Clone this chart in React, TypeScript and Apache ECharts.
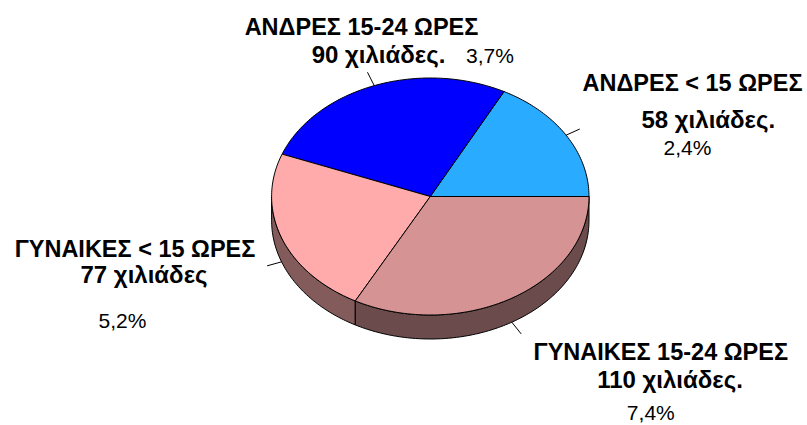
import React, { useEffect, useRef } from "react";
import * as echarts from "echarts";

const categories = ["ΑΝΔΡΕΣ < 15 ΩΡΕΣ", "ΑΝΔΡΕΣ 15-24 ΩΡΕΣ", "ΓΥΝΑΙΚΕΣ < 15 ΩΡΕΣ", "ΓΥΝΑΙΚΕΣ 15-24 ΩΡΕΣ"];
const values = [58, 90, 77, 110];
const valueLabels = ["58 χιλιάδες.", "90 χιλιάδες.", "77 χιλιάδες", "110 χιλιάδες."];
const percentLabels = ["2,4%", "3,7%", "5,2%", "7,4%"];

const topColors = ["#29ABFF", "#0000FF", "#FFABAB", "#D69393"];
const sideColors = ["#1A6FA8", "#00009A", "#845B5B", "#6B4B4B"];

// label anchor points: [centerX, baselineY]
const labelLayout = [
  { l1: [692.5, 91.5], l2: [708.3, 128], p: [687.5, 155] },
  { l1: [361.5, 35], l2: [378.5, 63], p: [490, 63] },
  { l1: [135, 257], l2: [144, 283], p: [122.5, 328] },
  { l1: [660.8, 360], l2: [670, 388], p: [650.8, 420] },
];

const GEO = { cx: 430.3, cy: 196.5, rx: 158.7, ry: 118.5, depth: 24, leader: 15 };
const FONT = '"Liberation Sans", Arial, sans-serif';
const FS_NAME = 23.5;
const FS_VALUE = 24;
const FS_PCT = 21;

function pt(deg: number, dy = 0): number[] {
  const r = (deg * Math.PI) / 180;
  return [GEO.cx + GEO.rx * Math.cos(r), GEO.cy - GEO.ry * Math.sin(r) + dy];
}

function arc(a: number, b: number, dy = 0): number[][] {
  const pts: number[][] = [];
  const n = Math.max(2, Math.ceil(Math.abs(b - a)));
  for (let k = 0; k <= n; k++) pts.push(pt(a + ((b - a) * k) / n, dy));
  return pts;
}

export default function App() {
  const ref = useRef<HTMLDivElement>(null);
  useEffect(() => {
    document.body.style.margin = "0";
    if (!ref.current) return;
    const chart = echarts.init(ref.current, undefined, { renderer: "svg" });
    const total = values.reduce((a, b) => a + b, 0);

    const textEls: any[] = [];
    const txt = (t: string, p: number[], fs: number, bold: boolean) => ({
      type: "text",
      x: p[0],
      y: p[1] - 0.35 * fs,
      silent: true,
      style: {
        text: t,
        fill: "#000",
        fontFamily: FONT,
        fontSize: fs,
        fontWeight: bold ? "bold" : "normal",
        textAlign: "center",
        textVerticalAlign: "middle",
      },
    });
    categories.forEach((c, i) => {
      const L = labelLayout[i];
      textEls.push(txt(c, L.l1, FS_NAME, true));
      textEls.push(txt(valueLabels[i], L.l2, FS_VALUE, true));
      textEls.push(txt(percentLabels[i], L.p, FS_PCT, false));
    });

    chart.setOption({
      animation: false,
      backgroundColor: "#fff",
      graphic: { elements: textEls },
      series: [
        {
          type: "custom",
          coordinateSystem: "none",
          data: values.map((v, i) => ({ value: v, name: categories[i] })),
          renderItem: (params: any, api: any) => {
            const i = params.dataIndex;
            const v = api.value(0);
            let start = 0;
            for (let k = 0; k < i; k++) start += (values[k] / total) * 360;
            const end = start + (v / total) * 360;
            const children: any[] = [];
            const s = Math.max(start, 180);
            const e = Math.min(end, 360);
            if (e > s) {
              const pts = arc(s, e, 0).concat(arc(e, s, GEO.depth));
              children.push({
                type: "polygon",
                shape: { points: pts },
                style: { fill: sideColors[i], stroke: "#000", lineWidth: 1 },
              });
            }
            children.push({
              type: "polygon",
              shape: { points: [[GEO.cx, GEO.cy]].concat(arc(start, end, 0)) },
              style: { fill: topColors[i], stroke: "#000", lineWidth: 1, lineJoin: "round" },
            });
            const mid = (start + end) / 2;
            const base = pt(mid, mid > 180 ? GEO.depth : 0);
            const r = (mid * Math.PI) / 180;
            const dx = GEO.rx * Math.cos(r);
            const dy = -GEO.ry * Math.sin(r);
            const len = Math.sqrt(dx * dx + dy * dy);
            children.push({
              type: "line",
              shape: {
                x1: base[0],
                y1: base[1],
                x2: base[0] + (dx / len) * GEO.leader,
                y2: base[1] + (dy / len) * GEO.leader,
              },
              style: { stroke: "#000", lineWidth: 1 },
            });
            return { type: "group", children };
          },
        },
      ],
    });
    return () => chart.dispose();
  }, []);
  return <div ref={ref} style={{ width: 807, height: 425 }} />;
}
